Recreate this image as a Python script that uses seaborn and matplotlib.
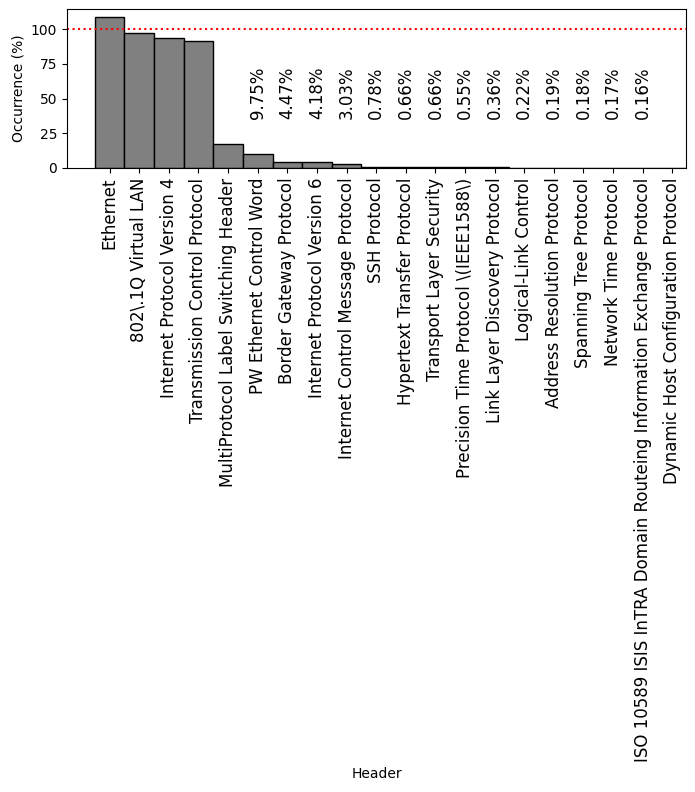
import matplotlib
matplotlib.use("Agg")
import matplotlib.pyplot as plt
import seaborn as sns
import pandas as pd

headers = [
    "Ethernet",
    "802\\.1Q Virtual LAN",
    "Internet Protocol Version 4",
    "Transmission Control Protocol",
    "MultiProtocol Label Switching Header",
    "PW Ethernet Control Word",
    "Border Gateway Protocol",
    "Internet Protocol Version 6",
    "Internet Control Message Protocol",
    "SSH Protocol",
    "Hypertext Transfer Protocol",
    "Transport Layer Security",
    "Precision Time Protocol \\(IEEE1588\\)",
    "Link Layer Discovery Protocol",
    "Logical-Link Control",
    "Address Resolution Protocol",
    "Spanning Tree Protocol",
    "Network Time Protocol",
    "ISO 10589 ISIS InTRA Domain Routeing Information Exchange Protocol",
    "Dynamic Host Configuration Protocol",
]
occurrence = [109.2, 97.6, 93.7, 91.8, 17.3, 9.75, 4.47, 4.18, 3.03, 0.78,
              0.66, 0.66, 0.55, 0.36, 0.22, 0.19, 0.18, 0.17, 0.16, 0.0]

# only the small ones get a percentage written above them
labelled = list(range(5, 19))

df = pd.DataFrame({"Header": headers, "Occurrence": occurrence})

fig, ax = plt.subplots(figsize=(6.95, 7.92), dpi=100)
fig.subplots_adjust(left=0.0964, right=0.987, top=0.9886, bottom=0.788)

sns.barplot(data=df, x="Header", y="Occurrence", color="gray", saturation=1,
            edgecolor="black", linewidth=1, width=1, ax=ax)

ax.axhline(100, color="red", linestyle=":", linewidth=1.5)

for i in labelled:
    ax.text(i, 35, "%.2f%%" % occurrence[i], rotation=90,
            ha="center", va="bottom", fontsize=12)

ax.set_xlim(-1.44, 19.46)
ax.set_ylabel("Occurrence (%)")
ax.set_xlabel("Header")
ax.tick_params(axis="x", labelrotation=90, labelsize=12)

fig.savefig("out.png", dpi=100)
